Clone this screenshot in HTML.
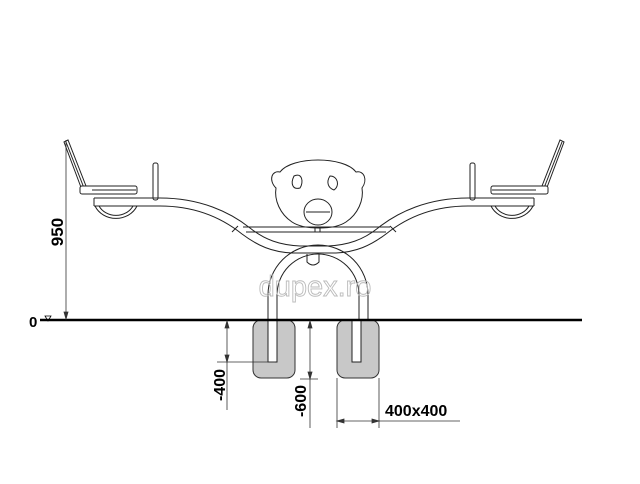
<!DOCTYPE html>
<html><head><meta charset="utf-8"><style>html,body{margin:0;padding:0;background:#fff}svg{display:block}</style></head>
<body>
<svg width="640" height="484" viewBox="0 0 640 484" xmlns="http://www.w3.org/2000/svg" font-family="Liberation Sans, sans-serif">
<defs>
<g id="half" fill="none" stroke="#222" stroke-width="1">
  <path d="M64,142 L68,140 L86,186 L82,190 Z" fill="#fff"/>
  <line x1="66" y1="142" x2="84" y2="188"/>
  <rect x="80" y="186" width="57" height="8" rx="2" fill="#fff"/>
  <line x1="92" y1="190" x2="136" y2="190"/>
  <path d="M95,206 A23,21 0 0 0 137,206" />
  <path d="M99,206 A19,17 0 0 0 133,206" />
  <line x1="94" y1="198" x2="94" y2="206"/>
  <rect x="153" y="163" width="5" height="37" rx="2" fill="#fff"/>
  <path d="M94,198 L160,198 C200,198 230,212 250,228 C265,240 280,245 300,246 L314,246"/>
  <path d="M94,206 L160,206 C195,206 222,218 242,234 C258,246 272,252 292,253 L314,253"/>
  <line x1="238" y1="226" x2="232" y2="232"/>
</g>
</defs>
<use href="#half"/>
<use href="#half" transform="translate(628,0) scale(-1,1)"/>
<g fill="none" stroke="#222" stroke-width="1">
  <line x1="243" y1="227" x2="390" y2="227"/>
  <line x1="246" y1="232" x2="386" y2="232"/>
  <path d="M280,172 C272,170 268,180 276,188 C274,200 280,214 292,222 C304,230 334,230 346,222 C358,214 364,200 362,188 C368,180 364,170 356,172 C344,156 292,156 280,172 Z"/>
  <path d="M294,176 C290,184 293,190 300,188 C304,182 302,172 294,176 Z"/>
  <path d="M330,176 C326,182 328,188 334,190 C340,186 338,176 330,176 Z"/>
  <ellipse cx="318" cy="212" rx="14" ry="13"/>
  <line x1="306" y1="212" x2="330" y2="212"/>
  <rect x="315" y="227" width="5" height="5"/>
  <path d="M268,362 L268,295 A50,50 0 0 1 368,295 L368,362"/>
  <path d="M277,362 L277,295 A41,41 0 0 1 359,295 L359,362"/>
  <path d="M268,362 L277,362 M359,362 L368,362"/>
  <path d="M307,254 L307,262 Q313,268 319,262 L319,254"/>
</g>
<rect x="253" y="320" width="42" height="58" rx="8" fill="#c8c8c8" stroke="#333" stroke-width="1"/>
<rect x="337" y="320" width="42" height="58" rx="8" fill="#c8c8c8" stroke="#333" stroke-width="1"/>
<rect x="268" y="320" width="9" height="42" fill="#fff" stroke="#222"/>
<rect x="352" y="320" width="9" height="42" fill="#fff" stroke="#222"/>
<line x1="40" y1="320" x2="582" y2="320" stroke="#000" stroke-width="2.5"/>
<text x="29" y="327" font-size="15" font-weight="bold">0</text>
<path d="M45,316 L51,316 L48,321 Z" fill="none" stroke="#000" stroke-width="0.8"/>
<g stroke="#333" stroke-width="0.8" fill="#333">
  <line x1="66" y1="140" x2="66" y2="319"/>
  <path d="M64,312 L66,319 L68,312 Z"/>
  <line x1="227" y1="321" x2="227" y2="410"/>
  <path d="M225,328 L227,321 L229,328 Z M225,355 L227,362 L229,355 Z"/>
  <line x1="217" y1="362" x2="275" y2="362"/>
  <line x1="310" y1="321" x2="310" y2="428"/>
  <path d="M308,328 L310,321 L312,328 Z M308,372 L310,379 L312,372 Z"/>
  <line x1="300" y1="379" x2="318" y2="379"/>
  <line x1="337" y1="378" x2="337" y2="428"/>
  <line x1="379" y1="378" x2="379" y2="428"/>
  <line x1="337" y1="421" x2="460" y2="421"/>
  <path d="M344,419 L337,421 L344,423 Z M372,419 L379,421 L372,423 Z"/>
</g>
<text transform="translate(63,232) rotate(-90)" font-size="17" font-weight="bold" text-anchor="middle">950</text>
<text transform="translate(225,385) rotate(-90)" font-size="16" font-weight="bold" text-anchor="middle">-400</text>
<text transform="translate(306,401) rotate(-90)" font-size="16" font-weight="bold" text-anchor="middle">-600</text>
<text x="385" y="416" font-size="16" font-weight="bold">400x400</text>
<text x="315" y="296" font-size="29" fill="none" stroke="#bbb" stroke-width="0.9" text-anchor="middle">dupex.ro</text>
</svg>
</body></html>
